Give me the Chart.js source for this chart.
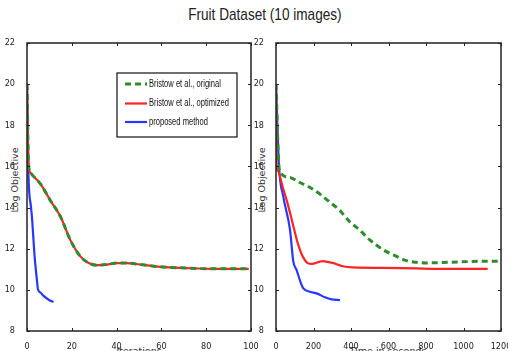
<!DOCTYPE html>
<html>
<head>
<meta charset="utf-8">
<script src="https://cdn.jsdelivr.net/npm/chart.js@4.4.0/dist/chart.umd.min.js"></script>
<style>
    body { margin: 0; width: 508px; height: 351px; overflow: hidden; background: #fff; position: relative; }
    canvas { position: absolute; }
    #title { position: absolute; left: 0; top: 5px; width: 530px; text-align: center; }
    #title span { display: inline-block; font-family: 'Liberation Sans', sans-serif; font-size: 17px; color: #222; transform: scaleX(0.8); }
    .ytitle { position: absolute; width: 100px; height: 12px; line-height: 12px; text-align: center; font-family: 'DejaVu Sans', sans-serif; font-size: 9.5px; color: #333; transform: rotate(-90deg); white-space: nowrap; }
    .xtitle { position: absolute; width: 120px; text-align: center; font-family: 'DejaVu Sans', sans-serif; font-size: 9.5px; color: #333; white-space: nowrap; }
</style>
</head>
<body>
<div id="title"><span>Fruit Dataset (10 images)</span></div>
<div class="ytitle" style="left:-35px; top:174px;">Log Objective</div>
<div class="ytitle" style="left:212px; top:174px;">Log Objective</div>
<div class="xtitle" style="left:79px; top:345px;">Iterations</div>
<div class="xtitle" style="left:328px; top:345px;">Time in seconds</div>
<canvas id="leftChart" width="260" height="330" style="left:0; top:30px;"></canvas>
<canvas id="rightChart" width="258" height="330" style="left:250px; top:30px;"></canvas>
<script>
// series labels
const seriesNames = ['Bristow et al., original', 'Bristow et al., optimized', 'proposed method'];

// left panel: objective vs iterations (both Bristow variants overlap here)
const bristowIterX = [0, 0.7, 1.5, 6, 10.4, 15, 19.3, 23.8, 27.5, 31, 35.7, 40, 44.6, 50.6, 59.5, 71, 83, 99];
const bristowIterY = [20, 16.1, 15.7, 15.15, 14.35, 13.55, 12.43, 11.63, 11.31, 11.2, 11.23, 11.3, 11.3, 11.23, 11.12, 11.06, 11.02, 11.02];
const proposedIterX = [0, 0.6, 1.8, 2.2, 3.4, 4.4, 4.9, 6, 7.4, 8.9, 10.4, 11.9];
const proposedIterY = [20, 15.8, 14.0, 13.55, 11.63, 10.51, 10.03, 9.87, 9.71, 9.58, 9.47, 9.42];

// right panel: objective vs time in seconds
const originalTimeX = [0, 18, 71, 125, 179, 232, 286, 339, 393, 446, 500, 571, 643, 696, 750, 804, 929, 1107, 1196];
const originalTimeY = [20, 15.8, 15.47, 15.23, 14.99, 14.67, 14.27, 13.87, 13.31, 12.91, 12.43, 11.95, 11.63, 11.42, 11.34, 11.31, 11.34, 11.39, 11.39];
const optimizedTimeX = [0, 3, 9, 36, 62, 89, 116, 142, 169, 190, 231, 250, 275, 302, 356, 411, 569, 747, 924, 1129];
const optimizedTimeY = [20, 16.0, 15.8, 14.99, 14.19, 13.23, 12.27, 11.63, 11.3, 11.26, 11.36, 11.4, 11.36, 11.31, 11.15, 11.09, 11.07, 11.04, 11.02, 11.02];
const proposedTimeX = [0, 16, 39, 75, 92, 110, 130, 146, 181, 217, 261, 297, 341];
const proposedTimeY = [20, 16.0, 14.53, 12.9, 11.4, 10.96, 10.4, 10.07, 9.91, 9.83, 9.64, 9.54, 9.5];

// axis ticks
const yTicks = [8, 10, 12, 14, 16, 18, 20, 22];
const iterTicks = [0, 20, 40, 60, 80, 100];
const timeTicks = [0, 200, 400, 600, 800, 1000, 1200];

const GREEN = 'rgb(45, 140, 45)';
const RED = 'rgb(255, 35, 35)';
const BLUE = 'rgb(40, 55, 255)';

Chart.defaults.font.family = "'DejaVu Sans Condensed', 'Liberation Sans Narrow', 'Liberation Sans', sans-serif";
Chart.defaults.font.size = 9;
Chart.defaults.color = '#222';

function toPoints(xs, ys) {
    return xs.map(function(x, i) { return { x: x, y: ys[i] }; });
}

function lineDataset(label, points, color, dashed) {
    return {
        label: label,
        data: points,
        borderColor: color,
        backgroundColor: color,
        borderWidth: dashed ? 3 : 2.2,
        borderDash: dashed ? [6, 4] : [],
        pointRadius: 0,
        cubicInterpolationMode: 'monotone',
        fill: false
    };
}

// box around the plot with small inward tick marks
const frameTicks = {
    id: 'frameTicks',
    afterDatasetsDraw(chart) {
        const ctx = chart.ctx;
        const a = chart.chartArea;
        ctx.save();
        ctx.strokeStyle = '#222';
        ctx.lineWidth = 1.5;
        ctx.strokeRect(a.left, a.top, a.right - a.left, a.bottom - a.top);
        ctx.lineWidth = 1;
        chart.scales.x.ticks.forEach(function(t) {
            const px = Math.round(chart.scales.x.getPixelForValue(t.value)) + 0.5;
            ctx.beginPath();
            ctx.moveTo(px, a.bottom); ctx.lineTo(px, a.bottom - 3);
            ctx.moveTo(px, a.top); ctx.lineTo(px, a.top + 3);
            ctx.stroke();
        });
        chart.scales.y.ticks.forEach(function(t) {
            const py = Math.round(chart.scales.y.getPixelForValue(t.value)) + 0.5;
            ctx.beginPath();
            ctx.moveTo(a.left, py); ctx.lineTo(a.left + 3, py);
            ctx.moveTo(a.right, py); ctx.lineTo(a.right - 3, py);
            ctx.stroke();
        });
        ctx.restore();
    }
};

// legend box drawn inside the left plot
const boxLegend = {
    id: 'boxLegend',
    afterDraw(chart) {
        const ctx = chart.ctx;
        const a = chart.chartArea;
        const bx = a.left + 90, by = a.top + 30, bw = 120, bh = 64;
        ctx.save();
        ctx.fillStyle = '#fff';
        ctx.fillRect(bx, by, bw, bh);
        ctx.strokeStyle = '#111';
        ctx.lineWidth = 1.2;
        ctx.strokeRect(bx, by, bw, bh);
        const rows = [11, 30.5, 49];
        chart.data.datasets.forEach(function(ds, i) {
            const y = by + rows[i];
            ctx.strokeStyle = ds.borderColor;
            ctx.lineWidth = ds.borderWidth;
            ctx.setLineDash(ds.borderDash);
            ctx.beginPath();
            ctx.moveTo(bx + 8, y);
            ctx.lineTo(bx + 30, y);
            ctx.stroke();
            ctx.setLineDash([]);
            ctx.fillStyle = '#111';
            ctx.font = "10.5px 'Liberation Sans', sans-serif";
            ctx.textBaseline = 'middle';
            ctx.save();
            ctx.translate(bx + 32, y);
            ctx.scale(0.72, 1);
            ctx.fillText(ds.label, 0, 0);
            ctx.restore();
        });
        ctx.restore();
    }
};

function plainNumber(value) {
    return String(value);
}

function makeScales(xTicks, yWidth) {
    return {
        x: {
            type: 'linear',
            min: xTicks[0],
            max: xTicks[xTicks.length - 1],
            afterBuildTicks: function(scale) { scale.ticks = xTicks.map(function(v) { return { value: v }; }); },
            ticks: { autoSkip: false, maxRotation: 0, padding: 2, callback: plainNumber },
            grid: { display: false },
            border: { display: false },
            afterFit: function(scale) { scale.height = 29; scale.paddingLeft = 0; scale.paddingRight = 0; }
        },
        y: {
            type: 'linear',
            min: yTicks[0],
            max: yTicks[yTicks.length - 1],
            afterBuildTicks: function(scale) { scale.ticks = yTicks.map(function(v) { return { value: v }; }); },
            ticks: { autoSkip: false, padding: 4, callback: plainNumber },
            grid: { display: false },
            border: { display: false },
            afterFit: function(scale) { scale.width = yWidth; scale.paddingTop = 0; scale.paddingBottom = 0; }
        }
    };
}

new Chart(document.getElementById('leftChart'), {
    type: 'line',
    data: {
        datasets: [
            lineDataset(seriesNames[0], toPoints(bristowIterX, bristowIterY), GREEN, true),
            lineDataset(seriesNames[1], toPoints(bristowIterX, bristowIterY), RED, false),
            lineDataset(seriesNames[2], toPoints(proposedIterX, proposedIterY), BLUE, false)
        ]
    },
    options: {
        responsive: false,
        animation: false,
        layout: { padding: { left: 0, top: 13, right: 9, bottom: 0 } },
        plugins: { legend: { display: false }, tooltip: { enabled: false } },
        scales: makeScales(iterTicks, 27)
    },
    plugins: [frameTicks, boxLegend]
});

new Chart(document.getElementById('rightChart'), {
    type: 'line',
    data: {
        datasets: [
            lineDataset(seriesNames[0], toPoints(originalTimeX, originalTimeY), GREEN, true),
            lineDataset(seriesNames[1], toPoints(optimizedTimeX, optimizedTimeY), RED, false),
            lineDataset(seriesNames[2], toPoints(proposedTimeX, proposedTimeY), BLUE, false)
        ]
    },
    options: {
        responsive: false,
        animation: false,
        layout: { padding: { left: 0, top: 13, right: 7, bottom: 0 } },
        plugins: { legend: { display: false }, tooltip: { enabled: false } },
        scales: makeScales(timeTicks, 26)
    },
    plugins: [frameTicks]
});
</script>
</body>
</html>
